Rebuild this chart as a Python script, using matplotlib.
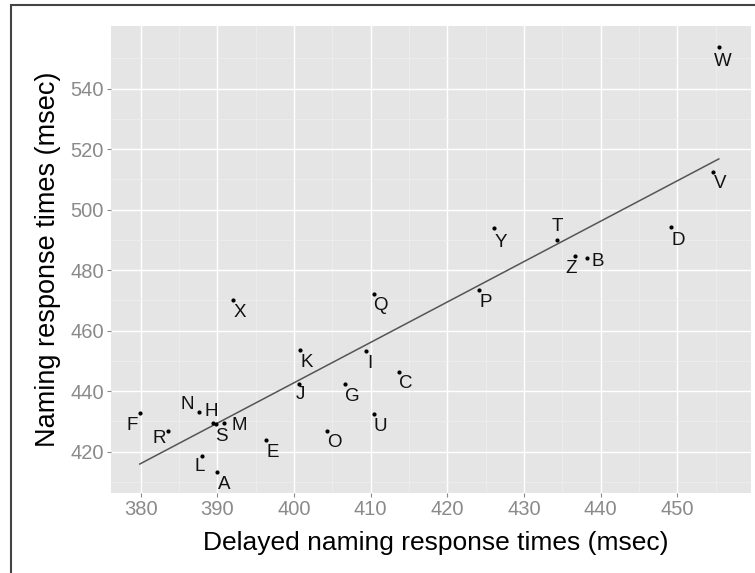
import numpy as np
import matplotlib
matplotlib.use("Agg")
import matplotlib.pyplot as plt
from matplotlib.patches import Rectangle

# letter -> (delayed naming RT, naming RT)
letters = ['A', 'B', 'C', 'D', 'E', 'F', 'G', 'H', 'I', 'J', 'K', 'L', 'M',
           'N', 'O', 'P', 'Q', 'R', 'S', 'T', 'U', 'V', 'W', 'X', 'Y', 'Z']
delayed = [390.0, 438.2, 413.7, 449.2, 396.3, 379.9, 406.7, 389.5, 409.4,
           400.6, 400.8, 388.0, 390.9, 387.6, 404.3, 424.1, 410.4, 383.6,
           389.8, 434.3, 410.4, 454.7, 455.4, 392.0, 426.1, 436.7]
naming = [413.1, 483.9, 446.4, 494.3, 423.8, 432.6, 442.3, 429.6, 453.2,
          442.5, 453.5, 418.6, 429.5, 433.2, 426.8, 473.4, 472.1, 426.8,
          429.0, 490.1, 432.3, 512.5, 553.8, 470.1, 493.8, 484.6]

x_ticks = [380, 390, 400, 410, 420, 430, 440, 450]
y_ticks = [420, 440, 460, 480, 500, 520, 540]

# label placement (pixels from the dot), default is below-right
default_off = (7, -12)
label_off = {'F': (-8, -12), 'R': (-9, -8), 'N': (-12, 7), 'H': (-2, 11),
             'S': (6, -12), 'M': (15, -3), 'L': (-2, -11), 'T': (0, 13),
             'Z': (-4, -12), 'B': (11, -3), 'J': (2, -11), 'I': (4, -12),
             'W': (4, -15), 'D': (7, -14), 'Y': (7, -14)}

plt.rcParams.update({'font.family': ['Liberation Sans', 'DejaVu Sans']})

fig = plt.figure(figsize=(7.55, 5.73), dpi=100)
ax = fig.add_axes([111 / 755, 1 - 492.7 / 573, 640 / 755, 466.7 / 573])
ax.set_facecolor('#E5E5E5')
for s in ax.spines.values():
    s.set_visible(False)

ax.set_xlim(376.15, 459.6)
ax.set_ylim(406.4, 560.7)
ax.set_xticks(x_ticks)
ax.set_yticks(y_ticks)
ax.set_xticks(np.arange(385, 460, 10), minor=True)
ax.set_yticks(np.arange(410, 560, 20), minor=True)
ax.grid(True, which='major', color='white', linewidth=1.0)
ax.grid(True, which='minor', color='#F0F0F0', linewidth=0.5)
ax.set_axisbelow(True)
ax.tick_params(which='major', colors='#8A8A8A', labelsize=14.5, length=3, width=0.8, pad=2)
ax.tick_params(which='minor', length=0)

# regression line over the data range
coef = np.polyfit(delayed, naming, 1)
xs = np.array([min(delayed), max(delayed)])
ax.plot(xs, np.polyval(coef, xs), color='#555555', linewidth=1.1)

ax.scatter(delayed, naming, s=4, color='black', zorder=3)
for lab, xv, yv in zip(letters, delayed, naming):
    dx, dy = label_off.get(lab, default_off)
    ax.annotate(lab, (xv, yv), xytext=(dx, dy), textcoords='offset pixels',
                ha='center', va='center', fontsize=13.5, color='#111111')

ax.set_xlabel('Delayed naming response times (msec)', fontsize=19, labelpad=9)
ax.xaxis.label.set_x(0.508)
ax.set_ylabel('Naming response times (msec)', fontsize=19.5, labelpad=7)

# outer frame of the figure
fig.patches.append(Rectangle((11 / 755, -0.1), 1.2, 1 - 5.5 / 573 + 0.1,
                             transform=fig.transFigure, fill=False,
                             edgecolor='#444444', linewidth=1.5))

fig.savefig('out.png', dpi=100)
